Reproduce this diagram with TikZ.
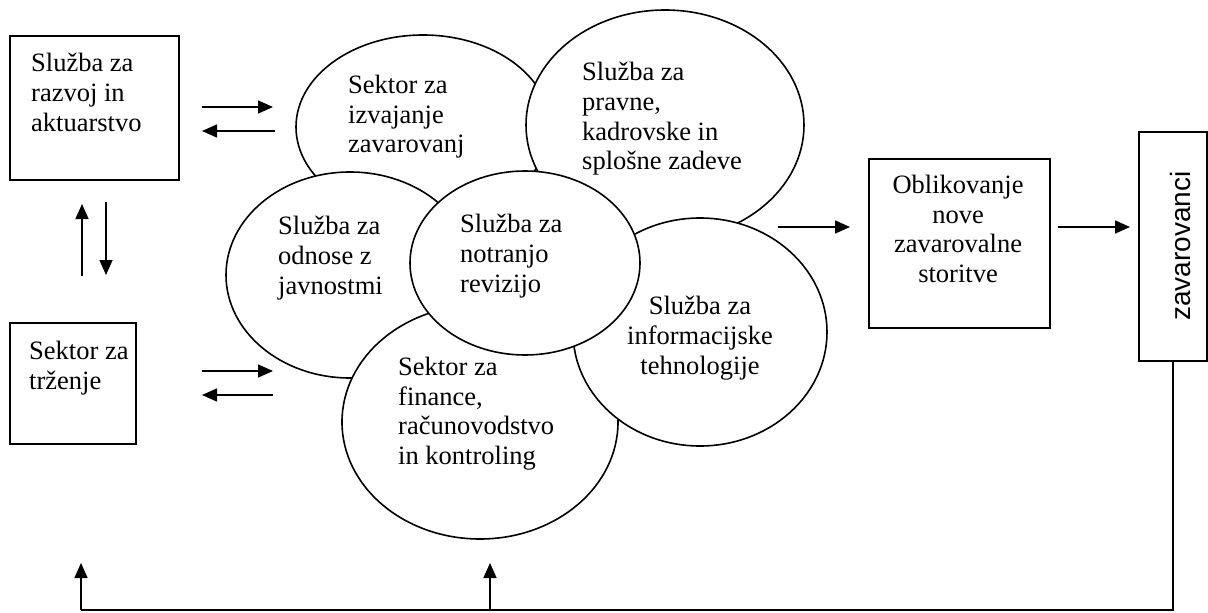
\documentclass[tikz,border=0pt]{standalone}
\usepackage{fontspec}
\setmainfont{Liberation Serif}
\setsansfont{Liberation Sans}
\usetikzlibrary{arrows.meta,shapes.geometric}
\begin{document}
\begin{tikzpicture}[x=1pt,y=-1pt,
  every node/.style={font=\fontsize{26.5}{29.7}\selectfont},
  box/.style={draw, line width=1.6pt, rectangle, inner sep=0pt, anchor=north west},
  ell/.style={draw, line width=1.6pt, ellipse, fill=white, inner sep=0pt},
  txt/.style={inner sep=0pt, align=left, anchor=north west},
  ctxt/.style={inner sep=0pt, align=center, anchor=north},
  ln/.style={line width=1.6pt},
  arr/.style={ln, -{Triangle[length=15pt,width=13pt]}}]
\useasboundingbox (0,0) rectangle (1208,613);

% left-hand boxes
\node[box, minimum width=169pt, minimum height=144pt] (b1) at (9,35) {};
\node[txt] (t1) at (31,53) {Služba za\\razvoj in\\aktuarstvo};
\node[box, minimum width=126pt, minimum height=121pt] (b2) at (9,322) {};
\node[txt] (t2) at (29,341) {Sektor za\\trženje};

% overlapping departments (drawn back to front)
\node[ell, minimum width=254pt, minimum height=184pt] (e1) at (423,127) {};
\node[ell, minimum width=278pt, minimum height=230pt] (e2) at (665,125) {};
\node[ell, minimum width=248pt, minimum height=206pt] (e3) at (350,275) {};
\node[ell, minimum width=276pt, minimum height=234pt] (e6) at (480,422) {};
\node[ell, minimum width=254pt, minimum height=228pt] (e5) at (700,332) {};
\node[ell, minimum width=230pt, minimum height=184pt] (e4) at (525,263) {};

\node[txt] (te1) at (348,75) {Sektor za\\izvajanje\\zavarovanj};
\node[txt] (te2) at (582,62) {Služba za\\pravne,\\kadrovske in\\splošne zadeve};
\node[txt] (te3) at (278,216) {Služba za\\odnose z\\javnostmi};
\node[txt] (te4) at (460,214) {Služba za\\notranjo\\revizijo};
\node[ctxt] (te5) at (700,296) {Služba za\\informacijske\\tehnologije};
\node[txt] (te6) at (398,357) {Sektor za\\finance,\\računovodstvo\\in kontroling};

% right-hand boxes
\node[box, minimum width=181pt, minimum height=169pt] (b3) at (868,158) {};
\node[ctxt] (t3) at (958,175) {Oblikovanje\\nove\\zavarovalne\\storitve};
\node[box, minimum width=68pt, minimum height=229pt] (b4) at (1138,131) {};
\node[rotate=90, anchor=base, inner sep=0pt, font=\fontsize{28}{30}\sffamily] (t4) at (1190,246) {zavarovanci};

% arrow end points
\coordinate (p1a) at (202,107); \coordinate (p1b) at (273,107);
\coordinate (p2a) at (275,131); \coordinate (p2b) at (202,131);
\coordinate (p3a) at (82,276);  \coordinate (p3b) at (82,204);
\coordinate (p4a) at (106,202); \coordinate (p4b) at (106,275);
\coordinate (p5a) at (202,371); \coordinate (p5b) at (273,371);
\coordinate (p6a) at (273,395); \coordinate (p6b) at (202,395);
\coordinate (p7a) at (778,227); \coordinate (p7b) at (850,227);
\coordinate (p8a) at (1058,227); \coordinate (p8b) at (1130,227);
\coordinate (fbL) at (81,610); \coordinate (upL) at (81,563);
\coordinate (fbM) at (490,610); \coordinate (upM) at (490,563);

\draw[arr] (p1a) -- (p1b);
\draw[arr] (p2a) -- (p2b);
\draw[arr] (p3a) -- (p3b);
\draw[arr] (p4a) -- (p4b);
\draw[arr] (p5a) -- (p5b);
\draw[arr] (p6a) -- (p6b);
\draw[arr] (p7a) -- (p7b);
\draw[arr] (p8a) -- (p8b);

% feedback from the insured
\draw[ln] (b4.south) |- (fbL);
\draw[arr] (fbL) -- (upL);
\draw[arr] (fbM) -- (upM);
\end{tikzpicture}
\end{document}
